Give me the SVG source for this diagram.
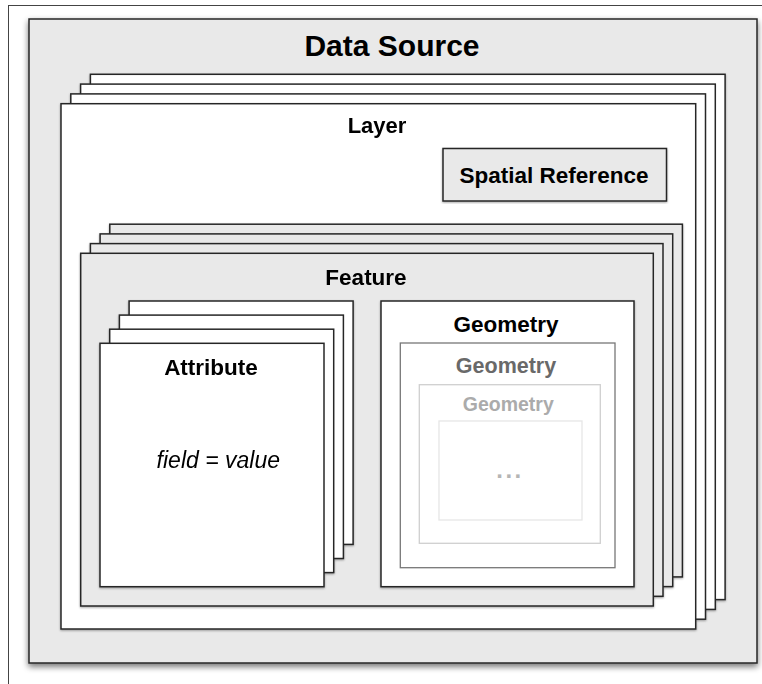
<svg xmlns="http://www.w3.org/2000/svg" width="762" height="684" viewBox="0 0 762 684">
<defs>
  <filter id="shadowBig" x="-10%" y="-10%" width="120%" height="120%">
    <feGaussianBlur in="SourceAlpha" stdDeviation="3"/>
    <feOffset dx="0" dy="3" result="b"/>
    <feComponentTransfer><feFuncA type="linear" slope="0.55"/></feComponentTransfer>
    <feMerge><feMergeNode/><feMergeNode in="SourceGraphic"/></feMerge>
  </filter>
  <filter id="shadowSmall" x="-5%" y="-5%" width="110%" height="110%">
    <feGaussianBlur in="SourceAlpha" stdDeviation="0.8"/>
    <feOffset dx="0" dy="1" result="b"/>
    <feComponentTransfer><feFuncA type="linear" slope="0.35"/></feComponentTransfer>
    <feMerge><feMergeNode/><feMergeNode in="SourceGraphic"/></feMerge>
  </filter>
</defs>
<style>
  .box { stroke: #262626; stroke-width: 1.5; }
  .white { fill: #ffffff; }
  .grey { fill: #e9e9e9; }
  .title { font-family: "Liberation Sans", Arial, sans-serif; font-weight: bold; text-anchor: middle; fill: #000; }
  .plain { font-family: "Liberation Sans", Arial, sans-serif; text-anchor: middle; }
</style>
<rect x="0" y="0" width="762" height="684" fill="#ffffff"/>
<rect x="8.5" y="5.5" width="800" height="800" fill="none" stroke="#444" stroke-width="1"/>

<g id="data-source">
  <rect class="box grey" x="29" y="19" width="728" height="644" filter="url(#shadowBig)"/>
  <text class="title" x="392" y="56" font-size="30">Data Source</text>
</g>

<g id="layer" filter="url(#shadowSmall)">
  <rect class="box white" x="90.4" y="74.3" width="634.7" height="525.3"/>
  <rect class="box white" x="80.6" y="84.1" width="634.7" height="525.3"/>
  <rect class="box white" x="70.8" y="93.9" width="634.7" height="525.3"/>
  <rect class="box white" x="61" y="103.7" width="634.7" height="525.3"/>
  <text class="title" x="377" y="133" font-size="22">Layer</text>
</g>

<g id="spatial-reference">
  <rect class="box grey" x="443" y="148.5" width="223.5" height="52.5" filter="url(#shadowSmall)"/>
  <text class="title" x="554" y="182.5" font-size="22.5">Spatial Reference</text>
</g>

<g id="feature" filter="url(#shadowSmall)">
  <rect class="box grey" x="109.8" y="224.2" width="572.6" height="352.7"/>
  <rect class="box grey" x="100.1" y="233.9" width="572.6" height="352.7"/>
  <rect class="box grey" x="90.4" y="243.6" width="572.6" height="352.7"/>
  <rect class="box grey" x="80.7" y="253.3" width="572.6" height="352.7"/>
  <text class="title" x="366" y="284.5" font-size="22.5">Feature</text>
</g>

<g id="attribute" filter="url(#shadowSmall)">
  <rect class="box white" x="129.1" y="301" width="224" height="243.4"/>
  <rect class="box white" x="119.4" y="315.1" width="224" height="243.4"/>
  <rect class="box white" x="109.7" y="329.2" width="224" height="243.4"/>
  <rect class="box white" x="100" y="343.3" width="224" height="243.4"/>
  <text class="title" x="211" y="375" font-size="22.5">Attribute</text>
  <text class="plain" x="218.3" y="468.3" font-size="23" font-style="italic" fill="#000">field = value</text>
</g>

<g id="geometry">
  <rect class="box white" x="381" y="301" width="253" height="285.7" filter="url(#shadowSmall)"/>
  <text class="title" x="506" y="331.7" font-size="22.5">Geometry</text>
</g>

<g id="geometry-2">
  <rect x="400.3" y="343" width="214.7" height="224.7" fill="#fff" stroke="#777" stroke-width="1.3"/>
  <text class="title" x="506" y="372.7" font-size="21.5" style="fill:#696969">Geometry</text>
</g>

<g id="geometry-3">
  <rect x="419.3" y="384.7" width="181" height="158.6" fill="#fff" stroke="#cfcfcf" stroke-width="1.3"/>
  <text class="title" x="508.3" y="410.7" font-size="19.5" style="fill:#ababab">Geometry</text>
</g>

<g id="geometry-4">
  <rect x="439" y="421" width="143" height="99" fill="#fff" stroke="#e6e6e6" stroke-width="1.3"/>
  <text class="plain" x="510" y="477.5" font-size="24" font-weight="bold" letter-spacing="2.5" fill="#b5b5b5">...</text>
</g>

<g id="connectors"></g>
</svg>
